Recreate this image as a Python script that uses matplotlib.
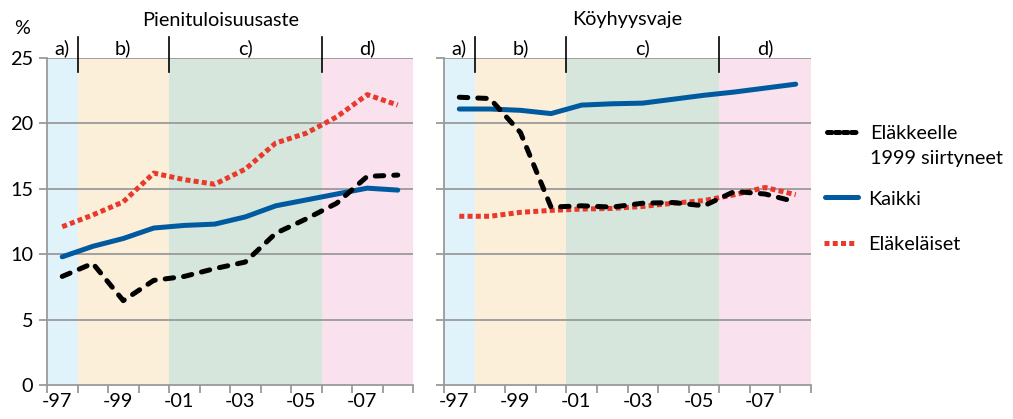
import matplotlib
matplotlib.use("Agg")
import matplotlib.pyplot as plt
from matplotlib.lines import Line2D
import numpy as np

plt.rcParams['font.family'] = ['Lato', 'DejaVu Sans']

# ---- data ----
years = list(range(1997, 2009))
tick_labels = ['-97', '-99', '-01', '-03', '-05', '-07']
label_years = [1997, 1999, 2001, 2003, 2005, 2007]

pien_retired1999 = [8.3, 9.3, 6.45, 8.0, 8.3, 8.9, 9.4, 11.6, 12.7, 13.9, 15.95, 16.05]
pien_all = [9.8, 10.6, 11.2, 12.0, 12.2, 12.3, 12.85, 13.7, 14.15, 14.6, 15.05, 14.9]
pien_pensioners = [12.1, 13.0, 14.0, 16.2, 15.7, 15.35, 16.5, 18.5, 19.25, 20.5, 22.2, 21.4]

koyh_retired1999 = [22.0, 21.9, 19.3, 13.6, 13.7, 13.6, 13.9, 13.95, 13.7, 14.8, 14.6, 14.0]
koyh_all = [21.1, 21.1, 21.0, 20.75, 21.4, 21.5, 21.55, 21.85, 22.15, 22.4, 22.7, 23.0]
koyh_pensioners = [12.9, 12.9, 13.2, 13.35, 13.45, 13.5, 13.65, 13.9, 14.1, 14.55, 15.1, 14.55]

period_labels = ['a)', 'b)', 'c)', 'd)']
period_bounds = [1997, 1998, 2001, 2006, 2009]   # start-of-year boundaries
period_colors = ['#E1F3FA', '#FCEFD9', '#D6E6DC', '#FAE1EE']

titles = ['Pienituloisuusaste', 'Köyhyysvaje']
series_names = ['Eläkkeelle\n1999 siirtyneet', 'Kaikki', 'Eläkeläiset']

BLACK = '#000000'
BLUE = '#005AA0'
RED = '#E8392A'
GRID = '#9A9A9A'

W, H = 1013, 419
fig = plt.figure(figsize=(W / 100, H / 100), dpi=100)

def px_rect(x0, x1, ytop, ybot):
    return [x0 / W, 1 - ybot / H, (x1 - x0) / W, (ybot - ytop) / H]

ax1 = fig.add_axes(px_rect(47, 413, 58, 385))
ax2 = fig.add_axes(px_rect(444, 811, 58, 385))

FS = 14.3

def style_black(line):
    line.set_dashes((1.7, 2.0))
    line.set_dash_capstyle('round')

panels = [
    (ax1, pien_retired1999, pien_all, pien_pensioners, titles[0], 0.475),
    (ax2, koyh_retired1999, koyh_all, koyh_pensioners, titles[1], 0.5),
]

for i, (ax, blk, blu, red, title, tx) in enumerate(panels):
    x = np.array(years) + 0.5
    for j in range(4):
        ax.axvspan(period_bounds[j], period_bounds[j + 1], color=period_colors[j], lw=0, zorder=0)
    for yv in [5, 10, 15, 20, 25]:
        ax.axhline(yv, color=GRID, lw=1.3, zorder=1)
    ax.plot(x, red, color=RED, lw=3.6, dashes=(1.0, 0.65), dash_capstyle='butt', zorder=3,
            solid_capstyle='butt')
    ax.plot(x, blu, color=BLUE, lw=3.6, solid_capstyle='round', zorder=4)
    lb, = ax.plot(x, blk, color=BLACK, lw=3.6, zorder=5)
    style_black(lb)

    ax.set_xlim(1997, 2009)
    ax.set_ylim(0, 25)
    ax.set_xticks(range(1997, 2010))
    ax.set_xticklabels([])
    ax.set_xticks([y + 0.5 - 0.17 for y in label_years], minor=True)
    ax.set_xticklabels(tick_labels, minor=True, fontsize=FS)
    ax.tick_params(axis='x', which='major', length=6, width=1.3, color=GRID, direction='out')
    ax.tick_params(axis='x', which='minor', length=0, pad=6)
    ax.set_yticks([0, 5, 10, 15, 20, 25])
    ax.tick_params(axis='y', length=6, width=1.3, color=GRID, direction='out', pad=4)
    if i == 0:
        ax.set_yticklabels(['0', '5', '10', '15', '20', '25'], fontsize=FS)
    else:
        ax.set_yticklabels([])
    for s in ['top', 'right']:
        ax.spines[s].set_visible(False)
    for s in ['left', 'bottom']:
        ax.spines[s].set_color(GRID)
        ax.spines[s].set_linewidth(1.3)
    ax.set_facecolor('white')

    # period separators and labels
    for b in period_bounds[1:-1]:
        ax.plot([b, b], [23.93, 26.6], color='black', lw=1.2, clip_on=False, zorder=6)
    for j in range(4):
        ax.text((period_bounds[j] + period_bounds[j + 1]) / 2, 25.77, period_labels[j],
                ha='center', va='center', fontsize=FS, clip_on=False)
    ax.text(tx, 1.0 + (58 - 20) / 327, title, transform=ax.transAxes, ha='center', va='center',
            fontsize=FS)

fig.text(22 / W, 1 - 28 / H, '%', ha='center', va='center', fontsize=FS)

# legend (manual)
def fx(p):
    return p / W

def fy(p):
    return 1 - p / H

l = Line2D([fx(827), fx(857)], [fy(132), fy(132)], transform=fig.transFigure, color=BLACK, lw=3.6)
l.set_dashes((0.9, 0.7))
l.set_dash_capstyle('round')
fig.add_artist(l)
fig.add_artist(Line2D([fx(825), fx(858)], [fy(197), fy(197)], transform=fig.transFigure,
                      color=BLUE, lw=3.6, solid_capstyle='round'))
fig.add_artist(Line2D([fx(824), fx(856)], [fy(243), fy(243)], transform=fig.transFigure,
                      color=RED, lw=3.6, dashes=(1.0, 0.65), dash_capstyle='butt'))
fig.text(fx(870), fy(133), 'Eläkkeelle', ha='left', va='center', fontsize=FS)
fig.text(fx(870), fy(158), '1999 siirtyneet', ha='left', va='center', fontsize=FS)
fig.text(fx(868), fy(199), series_names[1], ha='left', va='center', fontsize=FS)
fig.text(fx(868), fy(244), series_names[2], ha='left', va='center', fontsize=FS)

fig.savefig('out.png', dpi=100, facecolor='white')
